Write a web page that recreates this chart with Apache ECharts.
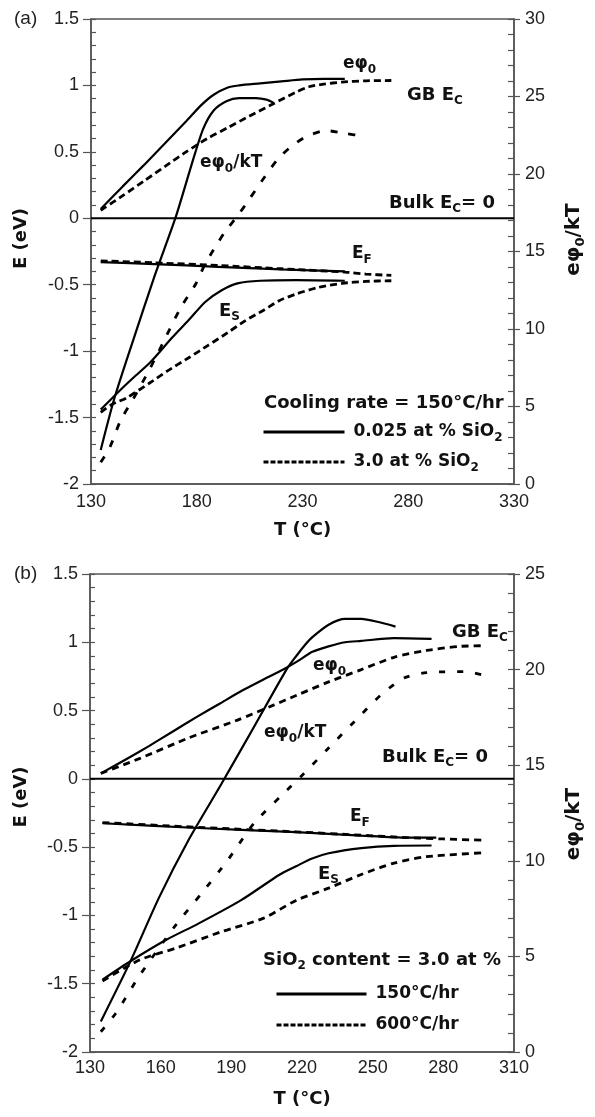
<!DOCTYPE html>
<html><head><meta charset="utf-8">
<script src="https://cdn.jsdelivr.net/npm/echarts@6/dist/echarts.min.js"></script>
<style>html,body{margin:0;padding:0;background:#fff}#c{width:595px;height:1117px}</style>
</head><body><div id="c"></div>
<script>
// ---------- Panel (a): cooling rate 150 °C/hr, [T (°C), value] ----------
const aXTicks = [130, 180, 230, 280, 330];
const aETicks = [-2, -1.5, -1, -0.5, 0, 0.5, 1, 1.5];
const aRTicks = [0, 5, 10, 15, 20, 25, 30];
const aNames = ['0.025 at % SiO2', '3.0 at % SiO2'];
const aPhiSolid = [[134.6,0.07],[145,0.24],[155,0.40],[165,0.565],[175,0.73],[182,0.85],[188,0.93],[194.7,0.985],[200,1.0],[210,1.015],[220,1.03],[230,1.045],[240,1.05],[250,1.05]];
const aPhiDash = [[134.6,0.06],[145,0.17],[155,0.28],[165,0.39],[175,0.50],[185,0.60],[195,0.685],[205,0.77],[216,0.86],[227,0.95],[233,0.99],[240,1.01],[248.6,1.025],[260,1.035],[272,1.037]];
const aPhiKTSolid = [[134.6,2.2],[141,5.5],[150,9.3],[160,13.4],[170,17.2],[178,20.8],[183,22.9],[188,24.1],[194,24.7],[200,24.9],[208,24.9],[213,24.8],[216.2,24.6]];
const aPhiKTDash = [[134.6,1.4],[139,2.4],[144,4.1],[150,5.5],[157.7,7.4],[164,9.1],[172.5,11.4],[179.5,12.9],[184,14.2],[193,16.2],[199.3,17.3],[205,18.4],[211,19.6],[218,20.9],[224,21.7],[231.6,22.4],[241,22.8],[251,22.6],[258.4,22.45]];
const aEFSolid = [[134.6,-0.33],[160,-0.345],[190,-0.365],[220,-0.385],[250,-0.40]];
const aEFDash = [[134.6,-0.32],[160,-0.335],[190,-0.355],[220,-0.38],[250,-0.405],[260,-0.42],[272,-0.43]];
const aESSolid = [[134.6,-1.44],[144,-1.29],[150,-1.2],[157.7,-1.09],[168.3,-0.9],[176,-0.77],[184,-0.63],[192,-0.54],[199.3,-0.49],[210,-0.47],[227,-0.465],[250,-0.47]];
const aESDash = [[134.6,-1.46],[140,-1.40],[147,-1.35],[157.7,-1.24],[166,-1.15],[176.2,-1.05],[185,-0.96],[194.7,-0.86],[203,-0.77],[211.8,-0.69],[219,-0.62],[227,-0.57],[237.6,-0.52],[248.7,-0.49],[260,-0.475],[272,-0.47]];
const aBulk = [[130,0],[330,0]];

// ---------- Panel (b): SiO2 content 3.0 at %, [T (°C), value] ----------
const bXTicks = [130, 160, 190, 220, 250, 280, 310];
const bETicks = [-2, -1.5, -1, -0.5, 0, 0.5, 1, 1.5];
const bRTicks = [0, 5, 10, 15, 20, 25];
const bNames = ['150°C/hr', '600°C/hr'];
const bPhiSolid = [[134.6,0.04],[145,0.14],[155,0.24],[165,0.345],[175,0.45],[185,0.55],[195,0.65],[205,0.74],[213,0.81],[218,0.86],[224.4,0.93],[231.3,0.97],[238.3,1.0],[245.2,1.01],[259,1.03],[275,1.025]];
const bPhiDash = [[134.6,0.04],[151.2,0.15],[171.9,0.30],[192.6,0.43],[207.9,0.54],[217.5,0.61],[231.3,0.71],[245.2,0.80],[259,0.89],[272.8,0.94],[286.7,0.97],[297.7,0.975]];
const bPhiKTSolid = [[134.6,1.6],[147,4.7],[159.4,8.1],[171.9,11.1],[185.7,14.0],[199.6,17.0],[213.4,20.0],[217.5,20.7],[221.7,21.35],[224.4,21.7],[231.3,22.35],[238.3,22.65],[245.2,22.65],[252.1,22.5],[259.7,22.25]];
const bPhiKTDash = [[134.6,1.06],[140.8,2.0],[146.3,3.07],[151.2,4.03],[166.4,6.64],[177.4,8.3],[188.5,10.04],[199.6,11.96],[212,13.5],[220.3,14.5],[231.3,15.9],[242.4,17.3],[253.5,18.67],[263.1,19.55],[272.8,19.84],[289.4,19.89],[298.4,19.67]];
const bEFSolid = [[135.3,-0.325],[176,-0.36],[217.5,-0.39],[245.2,-0.415],[264.5,-0.43],[277,-0.43]];
const bEFDash = [[135.3,-0.32],[176,-0.355],[217.5,-0.388],[245.2,-0.413],[264.5,-0.43],[280,-0.44],[297.7,-0.45]];
const bESSolid = [[135.3,-1.47],[147,-1.337],[162.2,-1.18],[176,-1.06],[194,-0.89],[210.6,-0.70],[217.5,-0.64],[224,-0.585],[231.3,-0.545],[245.2,-0.507],[259,-0.49],[275,-0.488]];
const bESDash = [[135.3,-1.48],[151.2,-1.325],[166.4,-1.24],[185.7,-1.12],[203.7,-1.02],[217.5,-0.89],[231.3,-0.80],[245.2,-0.70],[259,-0.617],[272.8,-0.57],[297.7,-0.54]];
const bBulk = [[130,0],[310,0]];

// ---------- styling ----------
const AX = '#555', LBL = '#222';
const TICKFONT = {fontFamily: '"Liberation Sans", Arial, sans-serif', fontSize: 18, color: LBL};
const BOLD = '"DejaVu Sans", sans-serif';
const SUB = {fontFamily: BOLD, fontWeight: 'bold', fontSize: 12, verticalAlign: 'bottom', lineHeight: 12, fill: '#111', color: '#111'};

function xAxisDef(grid, ticks, margin, gap) {
  return {type: 'value', gridIndex: grid, min: ticks[0], max: ticks[ticks.length - 1], interval: ticks[1] - ticks[0],
    axisLine: {onZero: false, lineStyle: {color: AX, width: 1.5}}, axisTick: {show: false}, splitLine: {show: false},
    axisLabel: Object.assign({margin: margin}, TICKFONT),
    name: 'T (°C)', nameLocation: 'middle', nameGap: gap,
    nameTextStyle: {fontFamily: BOLD, fontWeight: 'bold', fontSize: 18, color: '#111'}};
}
function yMain(grid, ticks, pos, tickLen, margin, name, gap, pad, rich) {
  return {type: 'value', gridIndex: grid, position: pos, offset: 0, min: ticks[0], max: ticks[ticks.length - 1], interval: ticks[1] - ticks[0],
    axisLine: {show: true, onZero: false, lineStyle: {color: AX, width: 1.5}},
    axisTick: {show: true, inside: false, length: tickLen, lineStyle: {color: AX, width: 1.2}},
    splitLine: {show: false}, axisLabel: Object.assign({margin: margin}, TICKFONT),
    name: name, nameLocation: 'middle', nameGap: gap, nameRotate: 90,
    nameTextStyle: {fontFamily: BOLD, fontWeight: 'bold', fontSize: pos === 'left' ? 18 : 20, color: '#111', lineHeight: 26, padding: pad,
      rich: rich}};
}
function yMinor(grid, ticks, pos, step, len) {
  return {type: 'value', gridIndex: grid, position: pos, offset: 0, min: ticks[0], max: ticks[ticks.length - 1], interval: step,
    axisLine: {show: false, onZero: false}, axisLabel: {show: false}, splitLine: {show: false},
    axisTick: {show: true, inside: true, length: len, lineStyle: {color: AX, width: 1.2}}};
}
const titleRich = {s: {fontFamily: BOLD, fontWeight: 'bold', fontSize: 13, verticalAlign: 'bottom', lineHeight: 13, color: '#111'}};

function line(name, data, xi, yi, dashed, dash) {
  return {type: 'line', name: name, data: data, xAxisIndex: xi, yAxisIndex: yi, symbol: 'none', smooth: 0.25,
    silent: true, z: 3,
    lineStyle: {color: '#000', width: dashed ? 2.8 : 2.2, type: dashed ? dash : 'solid'}, itemStyle: {color: '#000'}};
}

function txt(x, y, text, size) {
  return {type: 'text', x: x, y: y, z: 100, silent: true,
    style: {text: text, fill: '#111', fontFamily: BOLD, fontWeight: 'bold', fontSize: size || 17, lineHeight: 24,
      verticalAlign: 'middle', align: 'left', rich: {s: SUB}}};
}

const legendRich = {s: {fontFamily: BOLD, fontWeight: 'bold', fontSize: 12, verticalAlign: 'bottom', lineHeight: 12, color: '#111'}};
function legendDef(grid, names, left, top, w, gap) {
  return {show: true, orient: 'vertical', left: left, top: top, padding: 0, itemWidth: w, itemHeight: 4, itemGap: gap,
    selectedMode: false,
    data: [{name: names[0]}, {name: names[1], lineStyle: {type: [5, 2]}}],
    lineStyle: {width: 3},
    itemStyle: {opacity: 0, borderWidth: 0},
    formatter: n => n.replace('SiO2', 'SiO{s|2}'),
    textStyle: {fontFamily: BOLD, fontWeight: 'bold', fontSize: 17, color: '#111', lineHeight: 24, padding: [0, 0, 0, 4], rich: legendRich}};
}

const chart = echarts.init(document.getElementById('c'), null, {renderer: 'canvas'});
chart.setOption({
  animation: false,
  backgroundColor: '#fff',
  grid: [
    {left: 90, top: 19, width: 433, height: 465, show: true, borderColor: AX, borderWidth: 1.5, containLabel: false},
    {left: 89, top: 574, width: 434, height: 478, show: true, borderColor: AX, borderWidth: 1.5, containLabel: false}
  ],
  xAxis: [xAxisDef(0, aXTicks, 9, 37), xAxisDef(1, bXTicks, 7, 38)],
  yAxis: [
    yMain(0, aETicks, 'left', 8, 12, 'E (eV)', 57, [0, 0, 0, 26], titleRich),
    yMinor(0, aETicks, 'left', 0.1, 5),
    yMain(0, aRTicks, 'right', 6, 11, 'eφ{s|0}/kT', 47, [0, 0, 0, 24], titleRich),
    yMinor(0, aRTicks, 'right', 1, 6),
    yMain(1, bETicks, 'left', 8, 12, 'E (eV)', 56, [0, 0, 0, 32], titleRich),
    yMinor(1, bETicks, 'left', 0.1, 5),
    yMain(1, bRTicks, 'right', 6, 11, 'eφ{s|0}/kT', 47, [0, 22, 0, 0], titleRich),
    yMinor(1, bRTicks, 'right', 1, 6)
  ],
  legend: [legendDef(0, aNames, 262, 420, 81, 6), legendDef(1, bNames, 275, 982, 90, 7)],
  series: [
    {type: 'line', name: 'Bulk EC = 0 (a)', data: aBulk, xAxisIndex: 0, yAxisIndex: 0, symbol: 'none', silent: true, lineStyle: {color: '#000', width: 2}},
    line(aNames[0], aPhiSolid, 0, 0, false),
    line(aNames[0], aPhiKTSolid, 0, 2, false),
    line(aNames[0], aEFSolid, 0, 0, false),
    line(aNames[0], aESSolid, 0, 0, false),
    line(aNames[1], aPhiDash, 0, 0, true, [7, 4]),
    line(aNames[1], aPhiKTDash, 0, 2, true, [7, 11]),
    line(aNames[1], aEFDash, 0, 0, true, [7, 4]),
    line(aNames[1], aESDash, 0, 0, true, [7, 4]),
    {type: 'line', name: 'Bulk EC = 0 (b)', data: bBulk, xAxisIndex: 1, yAxisIndex: 4, symbol: 'none', silent: true, lineStyle: {color: '#000', width: 2}},
    line(bNames[0], bPhiSolid, 1, 4, false),
    line(bNames[0], bPhiKTSolid, 1, 6, false),
    line(bNames[0], bEFSolid, 1, 4, false),
    line(bNames[0], bESSolid, 1, 4, false),
    line(bNames[1], bPhiDash, 1, 4, true, [7, 5]),
    line(bNames[1], bPhiKTDash, 1, 6, true, [6, 12]),
    line(bNames[1], bEFDash, 1, 4, true, [7, 5]),
    line(bNames[1], bESDash, 1, 4, true, [7, 5])
  ],
  graphic: [
    {type: 'text', x: 14, y: 19, z: 100, silent: true, style: {text: '(a)', fill: LBL, fontFamily: '"Liberation Sans", Arial, sans-serif', fontSize: 19, verticalAlign: 'middle'}},
    {type: 'text', x: 14, y: 574, z: 100, silent: true, style: {text: '(b)', fill: LBL, fontFamily: '"Liberation Sans", Arial, sans-serif', fontSize: 19, verticalAlign: 'middle'}},
    txt(343, 64, 'eφ{s|0}'),
    txt(407, 95, 'GB E{s|C}', 18),
    txt(200, 163, 'eφ{s|0}/kT'),
    txt(389, 203, 'Bulk E{s|C}= 0', 18),
    txt(352, 254, 'E{s|F}'),
    txt(219, 311, 'E{s|S}', 18),
    txt(264, 403, 'Cooling rate = 150°C/hr', 18),
    txt(452, 632, 'GB E{s|C}', 18),
    txt(313, 666, 'eφ{s|0}'),
    txt(264, 733, 'eφ{s|0}/kT'),
    txt(382, 757, 'Bulk E{s|C}= 0', 18),
    txt(350, 817, 'E{s|F}'),
    txt(318, 874, 'E{s|S}', 18),
    txt(263, 960, 'SiO{s|2} content = 3.0 at %', 18)
  ]
});
</script></body></html>
